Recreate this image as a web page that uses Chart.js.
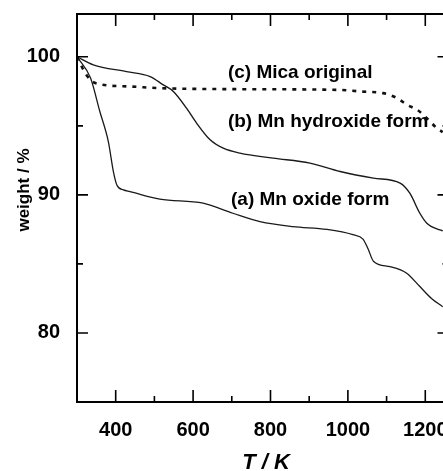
<!DOCTYPE html>
<html>
<head>
<meta charset="utf-8">
<script src="https://cdn.jsdelivr.net/npm/chart.js@4.4.0/dist/chart.umd.min.js"></script>
<style>
  html, body { margin: 0; padding: 0; background: #fff; overflow: hidden; }
  #wrap { width: 455px; height: 471px; }
</style>
</head>
<body>
<div id="wrap"><canvas id="tga" width="455" height="471"></canvas></div>
<script>
// (a) Mn oxide form
const oxideT = [300, 335, 359, 381, 394, 403, 420, 437, 514, 626, 703, 773, 858, 946, 1013, 1039, 1052, 1066, 1109, 1152, 1186, 1216, 1245];
const oxideW = [100, 98.46, 96.04, 93.86, 91.69, 90.72, 90.36, 90.24, 89.69, 89.4, 88.67, 88.06, 87.7, 87.5, 87.12, 86.8, 86.1, 85.2, 84.8, 84.33, 83.36, 82.5, 81.9];

// (b) Mn hydroxide form
const hydroxT = [300, 342, 428, 489, 523, 549, 583, 609, 644, 678, 721, 807, 902, 980, 1066, 1135, 1160, 1186, 1204, 1238, 1245];
const hydroxW = [100, 99.42, 98.93, 98.57, 97.97, 97.49, 96.28, 95.2, 93.99, 93.38, 93.02, 92.66, 92.3, 91.69, 91.21, 90.85, 90.12, 88.67, 87.95, 87.46, 87.4];

// (c) Mica original
const micaT = [300, 324, 347, 437, 514, 687, 980, 1031, 1091, 1127, 1153, 1179, 1204, 1230, 1245];
const micaW = [100, 98.7, 98.1, 97.85, 97.73, 97.66, 97.6, 97.49, 97.37, 97.01, 96.52, 96.16, 95.56, 94.83, 94.55];

const xMajor = [400, 600, 800, 1000, 1200];
const xMinor = [500, 700, 900, 1100];
const yMajor = [80, 90, 100];
const yMinor = [85, 95];

const curveNames = ['(a) Mn oxide form', '(b) Mn hydroxide form', '(c) Mica original'];
const nameT = [698, 690, 690];
const nameW = [89.27, 94.94, 98.47];

const toPoints = (ts, ws) => ts.map((t, i) => ({ x: t, y: ws[i] }));

const tickFont = { family: '"Liberation Sans", Arial, sans-serif', size: 20, weight: 'bold' };

// chart.js pads the layout for edge tick labels, we want a fixed plot box
const fixBox = (s, prop, size) => {
  s[prop] = size;
  s.paddingTop = 0; s.paddingBottom = 0; s.paddingLeft = 0; s.paddingRight = 0;
};

const framePlugin = {
  id: 'frame',
  afterDraw(chart) {
    const { ctx, chartArea: a, scales: { x, y } } = chart;
    ctx.save();
    ctx.strokeStyle = '#000';
    ctx.lineWidth = 2;
    ctx.strokeRect(a.left, a.top, a.right - a.left, a.bottom - a.top);

    ctx.lineWidth = 1.6;
    ctx.beginPath();
    const xt = (v, len) => {
      const px = x.getPixelForValue(v);
      ctx.moveTo(px, a.bottom); ctx.lineTo(px, a.bottom - len);
      ctx.moveTo(px, a.top); ctx.lineTo(px, a.top + len);
    };
    const yt = (v, len) => {
      const py = y.getPixelForValue(v);
      ctx.moveTo(a.left, py); ctx.lineTo(a.left + len, py);
      ctx.moveTo(a.right, py); ctx.lineTo(a.right - len, py);
    };
    xMajor.forEach(v => xt(v, 12));
    xMinor.forEach(v => xt(v, 6));
    yMajor.forEach(v => yt(v, 11));
    yMinor.forEach(v => yt(v, 6));
    ctx.stroke();

    // curve names
    ctx.fillStyle = '#000';
    ctx.font = 'bold 19px "Liberation Sans", Arial, sans-serif';
    ctx.textAlign = 'left';
    ctx.textBaseline = 'alphabetic';
    curveNames.forEach((n, i) => {
      ctx.fillText(n, x.getPixelForValue(nameT[i]), y.getPixelForValue(nameW[i]));
    });

    // axis titles
    ctx.font = 'italic bold 22px "Liberation Sans", Arial, sans-serif';
    ctx.textAlign = 'center';
    ctx.fillText('T / K', 266, 469);

    ctx.translate(29, 190);
    ctx.rotate(-Math.PI / 2);
    ctx.font = 'bold 17px "Liberation Sans", Arial, sans-serif';
    ctx.fillText('weight / %', 0, 0);
    ctx.restore();
  }
};

new Chart(document.getElementById('tga'), {
  type: 'scatter',
  data: {
    datasets: [
      {
        label: curveNames[0],
        data: toPoints(oxideT, oxideW),
        showLine: true,
        borderColor: '#1a1a1a',
        borderWidth: 1.3,
        pointRadius: 0,
        cubicInterpolationMode: 'monotone',
      },
      {
        label: curveNames[1],
        data: toPoints(hydroxT, hydroxW),
        showLine: true,
        borderColor: '#1a1a1a',
        borderWidth: 1.4,
        pointRadius: 0,
        cubicInterpolationMode: 'monotone',
      },
      {
        label: curveNames[2],
        data: toPoints(micaT, micaW),
        showLine: true,
        borderColor: '#111',
        borderWidth: 2.6,
        borderDash: [4, 6],
        pointRadius: 0,
        cubicInterpolationMode: 'monotone',
      },
    ],
  },
  options: {
    responsive: false,
    animation: false,
    devicePixelRatio: 1,
    layout: { padding: { top: 14, right: 6.5, left: 0, bottom: 0 } },
    plugins: {
      legend: { display: false },
      tooltip: { enabled: false },
    },
    scales: {
      x: {
        type: 'linear',
        min: 300,
        max: 1260,
        afterBuildTicks: s => { s.ticks = xMajor.map(v => ({ value: v })); },
        afterFit: s => fixBox(s, 'height', 69),
        grid: { display: false, drawTicks: false },
        border: { display: false },
        ticks: { font: tickFont, color: '#000', padding: 16, maxRotation: 0, autoSkip: false, callback: v => String(v) },
      },
      y: {
        min: 75,
        max: 103.1,
        afterBuildTicks: s => { s.ticks = yMajor.map(v => ({ value: v })); },
        afterFit: s => fixBox(s, 'width', 77),
        grid: { display: false, drawTicks: false },
        border: { display: false },
        ticks: { font: tickFont, color: '#000', padding: 17, callback: v => String(v) },
      },
    },
  },
  plugins: [framePlugin],
});
</script>
</body>
</html>
